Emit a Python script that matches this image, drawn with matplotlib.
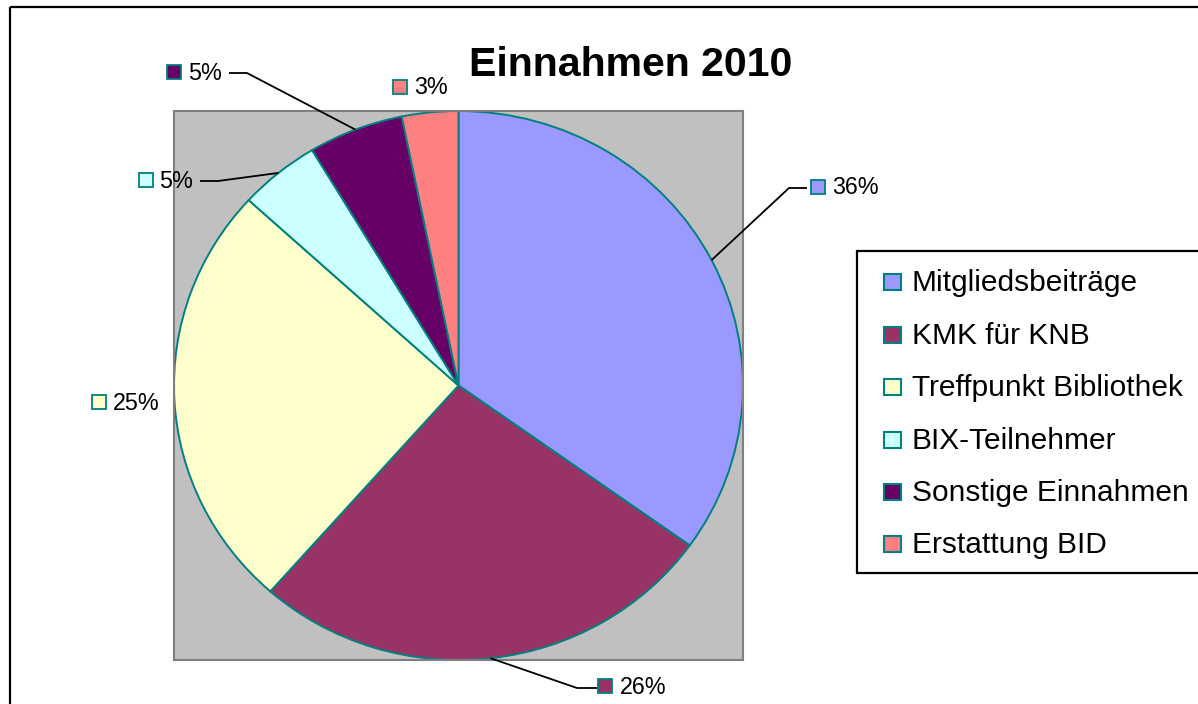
import numpy as np
import matplotlib
matplotlib.use("Agg")
import matplotlib.pyplot as plt
from matplotlib.patches import Rectangle

# ---- data ----
categories = ["Mitgliedsbeiträge", "KMK für KNB", "Treffpunkt Bibliothek",
              "BIX-Teilnehmer", "Sonstige Einnahmen", "Erstattung BID"]
values = [34.9, 26.6, 25.3, 4.6, 5.4, 3.2]
pct_labels = ["36%", "26%", "25%", "5%", "5%", "3%"]
colors = ["#9999FF", "#993366", "#FFFFCC", "#CCFFFF", "#660066", "#FF8080"]
title = "Einnahmen 2010"

W, H = 1198, 704
plt.rcParams['font.family'] = ['Liberation Sans', 'DejaVu Sans']
fig = plt.figure(figsize=(W / 100, H / 100), dpi=100)

# plot area
pl, pt, pr, pb = 174, 111, 743, 660
ax = fig.add_axes([pl / W, (H - pb) / H, (pr - pl) / W, (pb - pt) / H])
ax.set_facecolor("#C0C0C0")
wedges, _ = ax.pie(values, colors=colors, startangle=90, counterclock=False,
                   radius=1.0, wedgeprops=dict(edgecolor="#008080", linewidth=1.4))
ax.set_aspect("auto")
ax.set_xlim(-1, 1)
ax.set_ylim(-1, 1)
ax.set_frame_on(True)
for s in ax.spines.values():
    s.set_color("#808080")
    s.set_linewidth(1.5)
ax.set_xticks([])
ax.set_yticks([])

# overlay axes in pixel coordinates (on top)
ov = fig.add_axes([0, 0, 1, 1])
ov.set_zorder(5)
ov.set_xlim(0, W)
ov.set_ylim(H, 0)
ov.axis("off")

# outer chart border (extends beyond right/bottom)
ov.add_patch(Rectangle((10, 7), W + 20, H + 20, fill=False, ec="black", lw=1.6))

# title
ov.text(630.5, 65, title, ha="center", va="center", fontsize=29.5,
        fontweight="bold", color="black")

# data labels: (marker center x, y, text left x, leader bend points or None)
label_pos = [
    (818, 187, 832, [(789, 188), (807, 188)]),
    (605, 686, 620, [(577, 688), (597, 688)]),
    (99, 402, 113, None),
    (146, 180, 159, [(218, 181), (200, 181)]),
    (174, 72, 188, [(247, 73), (229, 73)]),
    (400, 87, 414, None),
]

cum = np.cumsum([0] + values)
total = cum[-1]
fig.canvas.draw()
for i, (mx, my, tx, bend) in enumerate(label_pos):
    ov.add_patch(Rectangle((mx - 7, my - 7), 14, 14, fc=colors[i], ec="#008080", lw=1.3))
    ov.text(tx, my + 1, pct_labels[i], ha="left", va="center", fontsize=16.8, color="black")
    if bend is not None:
        mid = (cum[i] + cum[i + 1]) / 2 / total
        ang = np.deg2rad(90 - 360 * mid)
        dx, dy = ax.transData.transform((np.cos(ang), np.sin(ang)))
        sx, sy = dx, H - dy
        xs = [sx] + [p[0] for p in bend]
        ys = [sy] + [p[1] for p in bend]
        ov.plot(xs, ys, color="black", lw=1.3, solid_capstyle="butt")

# legend (manual box)
ov.add_patch(Rectangle((857, 251), 400, 322, fc="white", ec="black", lw=1.6, zorder=3))
row_y = [282, 335, 387, 440, 492, 544]
for i, cat in enumerate(categories):
    y = row_y[i]
    ov.add_patch(Rectangle((884, y - 8), 17, 16, fc=colors[i], ec="#008080", lw=1.5, zorder=4))
    ov.text(912, y + 1, cat, ha="left", va="center", fontsize=21.5, color="black", zorder=4)

fig.savefig("out.png", dpi=100)
